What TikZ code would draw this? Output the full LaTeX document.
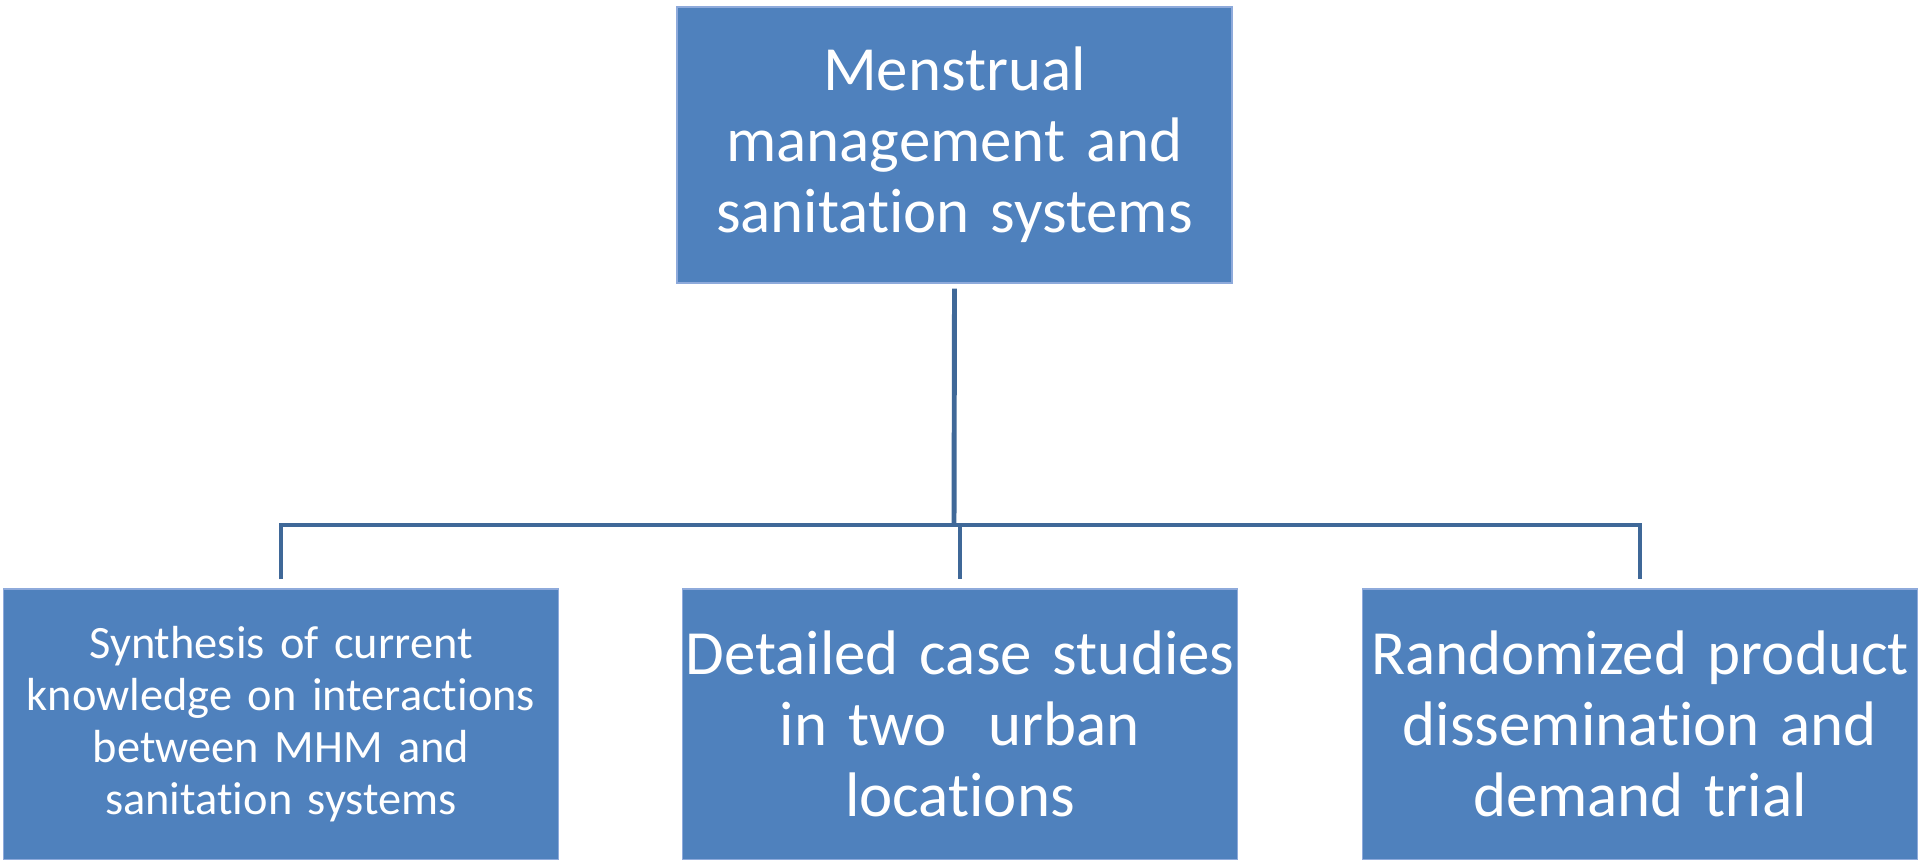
\documentclass[tikz,border=0pt]{standalone}
\usepackage{fontspec}
\setmainfont{Carlito}[Ligatures=CommonOff]
\usepackage{tikz}
\usetikzlibrary{positioning}

\definecolor{boxblue}{HTML}{4F81BD}
\definecolor{boxedge}{HTML}{8EAADB}
\definecolor{linkblue}{HTML}{3F6898}

\begin{document}
\begin{tikzpicture}[
    box/.style = {rectangle, fill=boxblue, draw=boxedge, line width=0.3pt,
                  minimum width=5.55cm, inner sep=0pt, text width=5.5cm,
                  align=center, text=white},
    bigtext/.style = {font=\fontsize{17.9}{20.2}\selectfont},
    smalltext/.style = {font=\fontsize{13.2}{14.8}\selectfont},
    link/.style = {draw=linkblue, line width=1.4pt, line join=miter}
  ]
  \useasboundingbox (0,0) rectangle (19.2,-8.59);

  \node[box, bigtext, minimum height=2.76cm] (top) at (9.545,-1.45)
    {Menstrual\\ management and\\ sanitation systems};

  \node[box, smalltext, minimum height=2.70cm] (synth) at (2.81,-7.24)
    {Synthesis of current\\ knowledge on interactions\\ between MHM and\\ sanitation systems};
  \node[box, bigtext, minimum height=2.70cm] (cases) at (9.60,-7.24)
    {Detailed case studies\\ in two\ \ urban\\ locations};
  \node[box, bigtext, minimum height=2.70cm] (trial) at (16.40,-7.24)
    {Randomized product\\ dissemination and\\ demand trial};

  \coordinate (hub) at (9.54,-5.25);

  % trunk and branches
  \draw[link] ([yshift=-0.05cm]top.south) -- (hub);
  \draw[link] ([yshift=0.09cm]synth.north) -- (synth.north |- hub)
    -- (trial.north |- hub) -- ([yshift=0.09cm]trial.north);
  \draw[link] (cases.north |- hub) -- ([yshift=0.09cm]cases.north);
\end{tikzpicture}
\end{document}
